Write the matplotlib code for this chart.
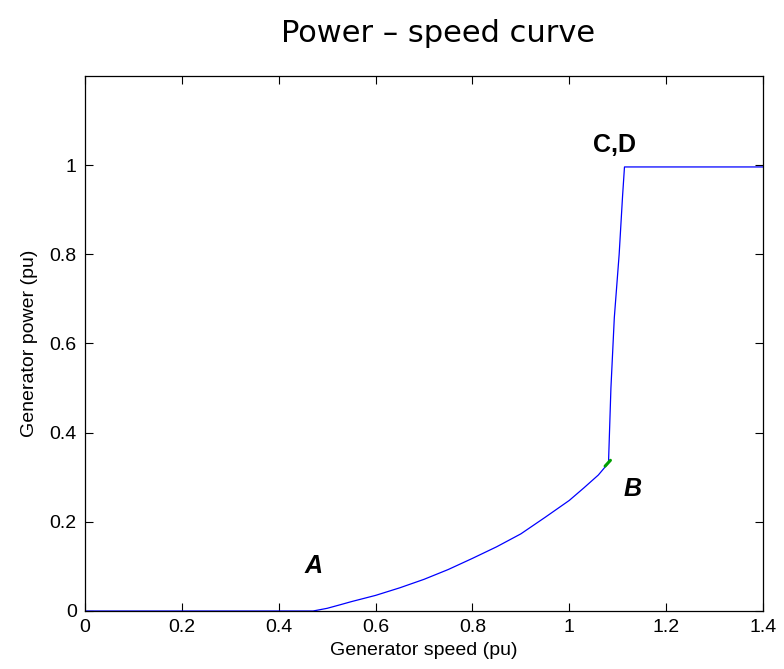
import matplotlib.pyplot as plt
import numpy as np

# power-speed characteristic
speed_low = [0.0, 0.471]
power_low = [0.0, 0.0]

speed_curve = [0.471, 0.50, 0.527, 0.55, 0.60, 0.65, 0.70, 0.75, 0.80, 0.85,
               0.90, 0.95, 1.00, 1.03, 1.06, 1.081]
power_curve = [0.0, 0.006, 0.014, 0.021, 0.035, 0.052, 0.071, 0.093, 0.118, 0.144,
               0.173, 0.210, 0.248, 0.276, 0.305, 0.332]

speed_jump = [1.081, 1.086, 1.093, 1.103, 1.110, 1.114, 1.400]
power_jump = [0.332, 0.500, 0.658, 0.800, 0.930, 0.996, 0.996]

speed_b = [1.074, 1.085]
power_b = [0.325, 0.338]

labels = ['A', 'B', 'C,D']
label_x = [0.471, 1.131, 1.094]
label_y = [0.101, 0.273, 1.045]

fig = plt.figure(figsize=(7.84, 6.69), dpi=100)
ax = fig.add_axes([0.1084, 0.0867, 0.9732 - 0.1084, 0.8864 - 0.0867])

ax.plot(speed_low + speed_curve[1:] + speed_jump[1:],
        power_low + power_curve[1:] + power_jump[1:], color='#0000ff', lw=0.9)
ax.plot(speed_b, power_b, color='#00a000', lw=2.2, solid_capstyle='round')

ax.text(label_x[0], label_y[0], labels[0], fontsize=18, fontweight='bold', fontstyle='italic',
        ha='center', va='center', family='Liberation Sans')
ax.text(label_x[1], label_y[1], labels[1], fontsize=18, fontweight='bold', fontstyle='italic',
        ha='center', va='center', family='Liberation Sans')
ax.text(label_x[2], label_y[2], labels[2], fontsize=18, fontweight='bold',
        ha='center', va='center', family='Liberation Sans')

ax.set_xlim(0, 1.4)
ax.set_ylim(0, 1.2)
ax.set_xticks(np.arange(0, 1.41, 0.2))
ax.set_xticklabels(['0', '0.2', '0.4', '0.6', '0.8', '1', '1.2', '1.4'])
ax.set_yticks(np.arange(0, 1.01, 0.2))
ax.set_yticklabels(['0', '0.2', '0.4', '0.6', '0.8', '1'])
ax.tick_params(direction='in', length=6, width=0.8, top=True, right=True,
               labelsize=14, pad=6)
for lab in ax.get_xticklabels() + ax.get_yticklabels():
    lab.set_family('Liberation Sans')
for s in ax.spines.values():
    s.set_linewidth(0.9)

ax.set_xlabel('Generator speed (pu)', fontsize=14, family='Liberation Sans', labelpad=4)
ax.set_ylabel('Generator power (pu)', fontsize=14, family='Liberation Sans', labelpad=8)
fig.text(0.559, 0.95, 'Power \u2013 speed curve', fontsize=22, ha='center', va='center',
         family='DejaVu Sans')

plt.savefig('out.png', format='png')
